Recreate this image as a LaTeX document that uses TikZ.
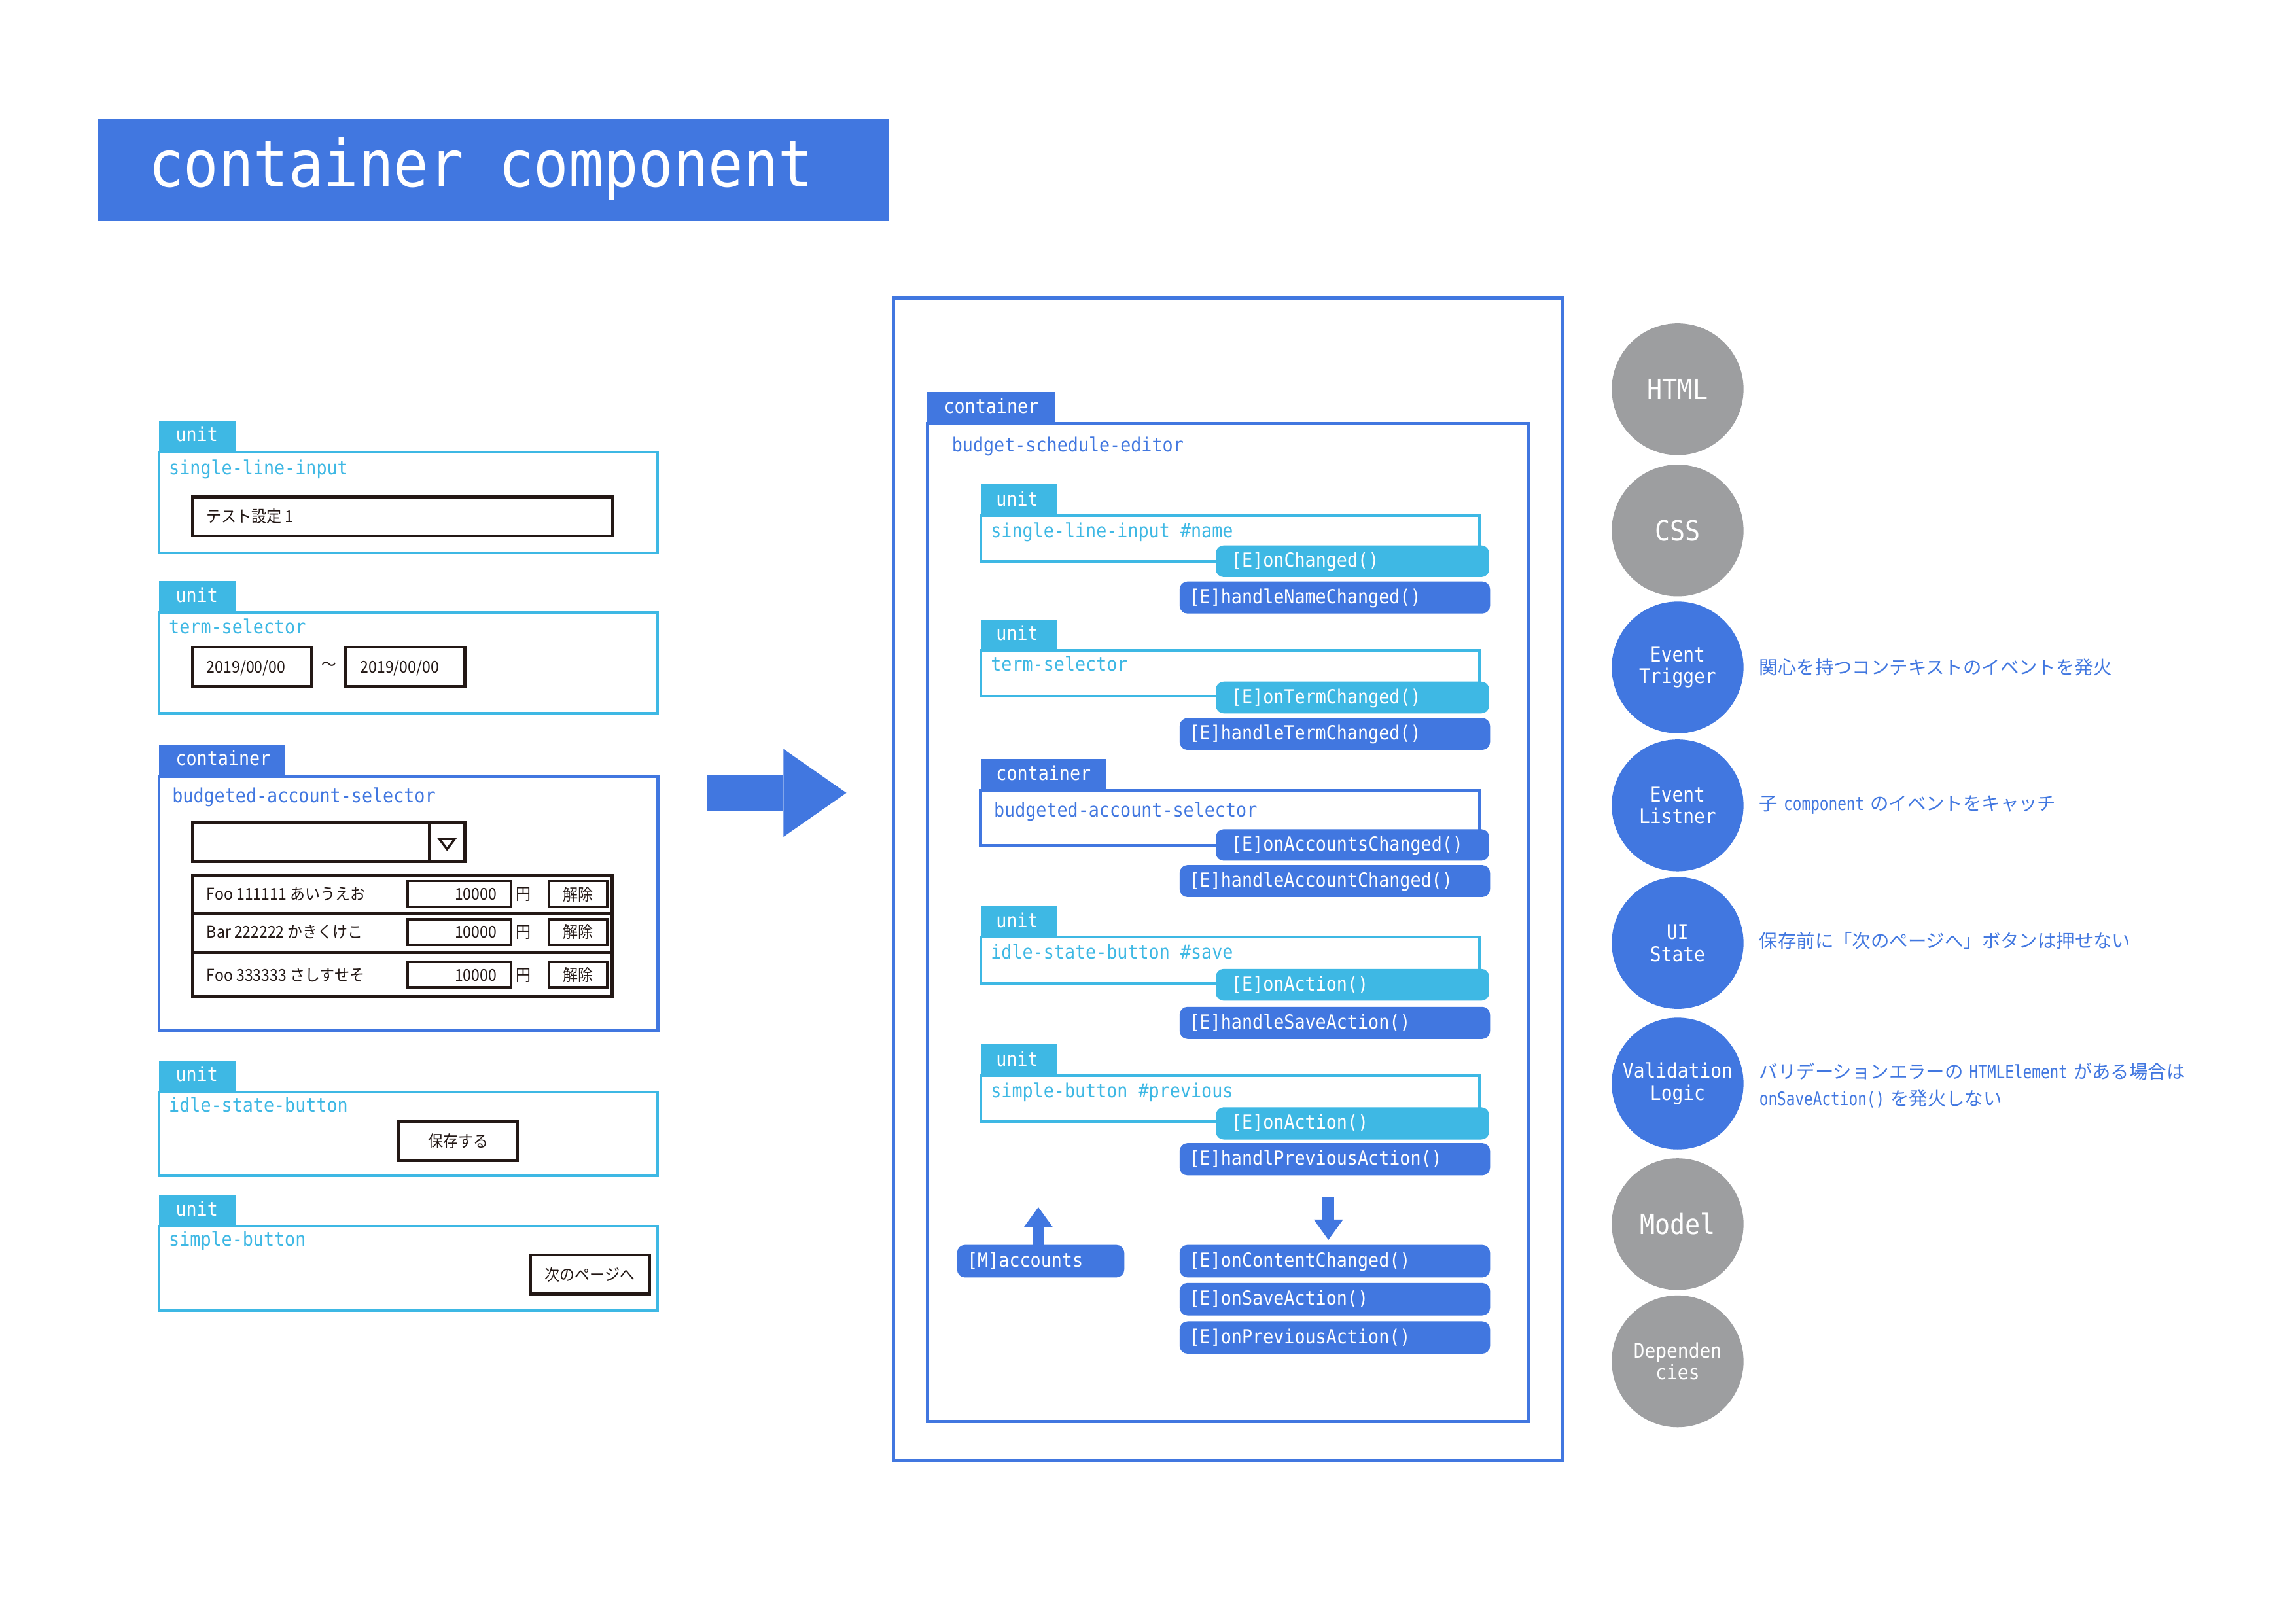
\documentclass[tikz,border=0pt]{standalone}
\usepackage{fontspec}
\usetikzlibrary{arrows.meta,calc}
\newfontfamily\monof[FakeStretch=0.9]{DejaVu Sans Mono}
\newfontfamily\monon[FakeStretch=0.8]{DejaVu Sans Mono}
\newfontfamily\jpf{Noto Sans CJK JP}
\newfontfamily\jpc[FakeStretch=0.92]{Noto Sans CJK JP}
\definecolor{dblue}{HTML}{4177E0}
\definecolor{lblue}{HTML}{3EB8E4}
\definecolor{cgray}{HTML}{9D9EA0}
\definecolor{ink}{HTML}{231815}
\newcommand\dmono{\monon\fontsize{28.4}{40.3}\selectfont}
\newcommand\dgap{\hspace{9pt}}
\newcommand\rect[6]{%
 \pgfmathsetlengthmacro\myrw{(#5-#3)*2.2379}%
 \pgfmathsetlengthmacro\myrh{(#6-#4)*2.2379}%
 \node[#2,anchor=north west,minimum width=\myrw,minimum height=\myrh] (#1) at (#3,#4) {};}
\newcommand\pill[8]{%
 \pgfmathsetlengthmacro\myrw{(#5-#3)*2.2379}%
 \pgfmathsetlengthmacro\myrh{(#6-#4)*2.2379}%
 \pgfmathsetlengthmacro\mypd{#7*2.2379}%
 \pgfmathsetlengthmacro\mytw{(#5-#3-2*#7)*2.2379}%
 \node[pillst,fill=#2,anchor=north west,minimum width=\myrw,minimum height=\myrh,inner xsep=\mypd,text width=\mytw] (#1) at (#3,#4) {#8};}
\begin{document}
\begin{tikzpicture}[x=2.2379pt,y=-2.2379pt,
 mono/.style={font=\monof\fontsize{29.7}{34}\selectfont},
 tabtxt/.style={mono,text=white,inner sep=0pt,anchor=base west},
 ulbl/.style={mono,text=lblue,inner sep=0pt,anchor=base west},
 clbl/.style={mono,text=dblue,inner sep=0pt,anchor=base west},
 ubox/.style={draw=lblue,line width=4pt,inner sep=0pt,outer sep=0pt},
 cbox/.style={draw=dblue,line width=4.5pt,inner sep=0pt,outer sep=0pt},
 kbox/.style={draw=ink,line width=4.5pt,inner sep=0pt,outer sep=0pt,fill=white},
 kthin/.style={draw=ink,line width=3.5pt,inner sep=0pt,outer sep=0pt,fill=white},
 utab/.style={fill=lblue,inner sep=0pt,outer sep=0pt},
 ctab/.style={fill=dblue,inner sep=0pt,outer sep=0pt},
 titlebox/.style={fill=dblue,inner sep=0pt,outer sep=0pt},
 mock/.style={text=ink,font=\jpc\fontsize{25}{30}\selectfont,inner sep=0pt},
 pillst/.style={rounded corners=12pt,inner ysep=0pt,outer sep=0pt,text=white,mono,align=left,text height=21pt,text depth=3pt},
 circ/.style={circle,minimum size=201.4pt,inner sep=0pt,text=white,align=center},
 cbig/.style={circ,font=\monof\fontsize{42.6}{46}\selectfont},
 csmall/.style={circ,font=\monof\fontsize{31}{33.5}\selectfont},
 desc/.style={text=dblue,font=\jpf\fontsize{28.4}{40.3}\selectfont,inner sep=0pt,anchor=west,align=left},
 blockarrow/.style={draw=dblue,line width=17.9pt,-{Triangle[length=30.9pt 0 0,width=44.8pt 0 0,line width=0pt 0]}},
 bigarrow/.style={draw=dblue,line width=53.7pt,-{Triangle[length=96.2pt 0 0,width=134.3pt 0 0,line width=0pt 0]}}
]
\fill[white] (0,0) rectangle (1568,1109);
\useasboundingbox (0,0) rectangle (1568,1109);

% ---------- title ----------
\rect{title}{titlebox}{67.2}{81.2}{606.7}{150.9}
\node[font=\monof\fontsize{98.7}{110}\selectfont,text=white,inner sep=0pt,anchor=base west] (titletxt) at (101.5,127.6) {container component};

% ---------- left column ----------
% unit 1
\rect{lt1}{utab}{108.5}{287.4}{160.9}{308.8}
\rect{lu1}{ubox}{108.5}{308.8}{449.3}{377.6}
\node[tabtxt] (lt1txt) at (119.9,301.6) {unit};
\node[ulbl] (lu1lbl) at (115.3,324) {single-line-input};
\rect{lin1}{kbox}{131.3}{339.3}{418.5}{366}
\node[mock,anchor=base west] (lin1txt) at (141.1,357) {テスト設定\,1};
% unit 2
\rect{lt2}{utab}{108.5}{396.9}{160.9}{418.3}
\rect{lu2}{ubox}{108.5}{418.3}{449.3}{487}
\node[tabtxt] (lt2txt) at (119.9,411.3) {unit};
\node[ulbl] (lu2lbl) at (115.3,432.6) {term-selector};
\rect{ld1}{kbox}{131.3}{442}{212.7}{468.7}
\rect{ld2}{kbox}{236.2}{442}{317.5}{468.7}
\node[mock,anchor=base west] (ld1txt) at (141.1,459.5) {2019/00/00};
\node[mock,anchor=base west] (ld2txt) at (246,459.5) {2019/00/00};
\node[mock] (ltilde) at (224.8,455) {〜};
% container
\rect{lt3}{ctab}{108.5}{508.6}{194.6}{530.3}
\rect{lc1}{cbox}{108.5}{530.3}{449.3}{703.8}
\node[tabtxt] (lt3txt) at (119.9,522.8) {container};
\node[clbl] (lc1lbl) at (117.6,548.1) {budgeted-account-selector};
\rect{ldd}{kbox}{131.3}{562}{317.5}{588.6}
\rect{lddbtn}{kbox}{293.1}{562}{317.5}{588.6}
\draw[ink,line width=3.5pt,fill=white,line join=miter] (300,572.9) -- (310.6,572.9) -- (305.3,579.9) -- cycle;
\rect{lr1}{kbox}{131.3}{598}{418.1}{624}
\rect{lr2}{kbox}{131.3}{624}{418.1}{650.6}
\rect{lr3}{kbox}{131.3}{650.6}{418.1}{680.4}
\rect{la1}{kthin}{278.3}{601.7}{349}{619.6}
\rect{la2}{kthin}{278.3}{627.8}{349}{645.2}
\rect{la3}{kthin}{278.3}{656.8}{349}{674.4}
\rect{lx1}{kthin}{375.2}{601.7}{414.7}{619.6}
\rect{lx2}{kthin}{375.2}{627.8}{414.7}{645.2}
\rect{lx3}{kthin}{375.2}{656.8}{414.7}{674.4}
\node[mock,anchor=base west] (lr1txt) at (141.1,614.8) {Foo 111111 あいうえお};
\node[mock,anchor=base west] (lr2txt) at (141.1,640.6) {Bar 222222 かきくけこ};
\node[mock,anchor=base west] (lr3txt) at (141.1,670) {Foo 333333 さしすせそ};
\node[mock,anchor=base east] (la1txt) at (339.2,614.8) {10000};
\node[mock,anchor=base east] (la2txt) at (339.2,640.6) {10000};
\node[mock,anchor=base east] (la3txt) at (339.2,670) {10000};
\node[mock,anchor=base] (ly1) at (357.6,614.8) {円};
\node[mock,anchor=base] (ly2) at (357.6,640.6) {円};
\node[mock,anchor=base] (ly3) at (357.6,670) {円};
\node[mock] (lx1txt) at (lx1.center) {解除};
\node[mock] (lx2txt) at (lx2.center) {解除};
\node[mock] (lx3txt) at (lx3.center) {解除};
% unit 4
\rect{lt4}{utab}{108.5}{724.3}{160.9}{745.8}
\rect{lu4}{ubox}{108.5}{745.8}{449.3}{802.8}
\node[tabtxt] (lt4txt) at (119.9,738.6) {unit};
\node[ulbl] (lu4lbl) at (115.3,759.6) {idle-state-button};
\rect{lb1}{kbox}{272.1}{765.9}{353.5}{792.7}
\node[mock] (lb1txt) at (lb1.center) {保存する};
% unit 5
\rect{lt5}{utab}{108.5}{816.2}{160.9}{837.5}
\rect{lu5}{ubox}{108.5}{837.5}{449.3}{894.9}
\node[tabtxt] (lt5txt) at (119.9,830.5) {unit};
\node[ulbl] (lu5lbl) at (115.3,851.2) {simple-button};
\rect{lb2}{kbox}{362.2}{857.1}{443.6}{883.7}
\node[mock] (lb2txt) at (lb2.center) {次のページへ};

% ---------- big arrow ----------
\coordinate (bigS) at (483,541.5);
\coordinate (bigT) at (578,541.5);
\draw[bigarrow] (bigS) -- (bigT);

% ---------- middle ----------
\rect{mouter}{cbox}{610.1}{203.6}{1066.9}{997.5}
\rect{mt0}{ctab}{633.4}{267.8}{720.1}{289}
\rect{minner}{cbox}{633.4}{289}{1043.7}{970.7}
\node[tabtxt] (mt0txt) at (644.5,282.4) {container};
\node[clbl] (mlbl0) at (650,308.7) {budget-schedule-editor};
% A
\rect{mtA}{utab}{669.6}{330.8}{721.9}{352.2}
\rect{muA}{ubox}{669.6}{352.2}{1010.4}{383.5}
\node[tabtxt] (mtAtxt) at (680.2,345.6) {unit};
\node[ulbl] (mlblA) at (676.6,367.2) {single-line-input \#name};
\pill{pA1}{lblue}{830.3}{372.5}{1017}{394.1}{10.7}{[E]onChanged()}
\pill{pA2}{dblue}{805.6}{397.1}{1017.6}{419}{6.6}{[E]handleNameChanged()}
% B
\rect{mtB}{utab}{669.6}{423}{721.9}{444}
\rect{muB}{ubox}{669.6}{444}{1010.4}{475.3}
\node[tabtxt] (mtBtxt) at (680.2,437.3) {unit};
\node[ulbl] (mlblB) at (676.6,458.3) {term-selector};
\pill{pB1}{lblue}{830.3}{465.5}{1017}{487.2}{10.7}{[E]onTermChanged()}
\pill{pB2}{dblue}{805.6}{490.4}{1017.6}{512.1}{6.6}{[E]handleTermChanged()}
% C
\rect{mtC}{ctab}{669.6}{518.4}{755.7}{539.8}
\rect{muC}{cbox}{669.6}{539.8}{1010.4}{577.3}
\node[tabtxt] (mtCtxt) at (680.2,532.8) {container};
\node[clbl] (mlblC) at (678.7,558) {budgeted-account-selector};
\pill{pC1}{dblue}{830.3}{566.3}{1017}{587.8}{10.7}{[E]onAccountsChanged()}
\pill{pC2}{dblue}{805.6}{590.8}{1017.6}{612.6}{6.6}{[E]handleAccountChanged()}
% D
\rect{mtD}{utab}{669.6}{618.8}{721.9}{640.1}
\rect{muD}{ubox}{669.6}{640.1}{1010.4}{671.6}
\node[tabtxt] (mtDtxt) at (680.2,633.6) {unit};
\node[ulbl] (mlblD) at (676.6,655) {idle-state-button \#save};
\pill{pD1}{lblue}{830.3}{661.7}{1017}{683.4}{10.7}{[E]onAction()}
\pill{pD2}{dblue}{805.6}{687.6}{1017.6}{709.5}{6.6}{[E]handleSaveAction()}
% E
\rect{mtE}{utab}{669.6}{713.3}{721.9}{734.5}
\rect{muE}{ubox}{669.6}{734.5}{1010.4}{765.8}
\node[tabtxt] (mtEtxt) at (680.2,728) {unit};
\node[ulbl] (mlblE) at (676.6,749.4) {simple-button \#previous};
\pill{pE1}{lblue}{830.3}{756.2}{1017}{778.2}{10.7}{[E]onAction()}
\pill{pE2}{dblue}{805.6}{780.7}{1017.6}{802.7}{6.6}{[E]handlPreviousAction()}
% bottom
\pill{pM}{dblue}{653.6}{850.2}{767.8}{872.4}{6.9}{[M]accounts}
\pill{pF1}{dblue}{805.6}{850.2}{1017.6}{872.4}{6.6}{[E]onContentChanged()}
\pill{pF2}{dblue}{805.6}{876.2}{1017.6}{898.4}{6.6}{[E]onSaveAction()}
\pill{pF3}{dblue}{805.6}{902.4}{1017.6}{924.5}{6.6}{[E]onPreviousAction()}
\coordinate (upT) at (709.1,824.4);
\draw[blockarrow] (pM.north -| upT) -- (upT);
\coordinate (downS) at (907.2,817.7);
\draw[blockarrow,shorten >=7.8pt] (downS) -- (pF1.north -| downS);

% ---------- right column ----------
\node[cbig,fill=cgray] (chtml) at (1145.7,265.8) {HTML};
\node[cbig,fill=cgray] (ccss) at (1145.7,362.3) {CSS};
\node[csmall,fill=dblue] (ctrig) at (1145.7,455.8) {Event\\Trigger};
\node[csmall,fill=dblue] (clist) at (1145.7,550) {Event\\Listner};
\node[csmall,fill=dblue] (cui) at (1145.7,644) {UI\\State};
\node[csmall,fill=dblue] (cval) at (1145.7,740) {Validation\\Logic};
\node[cbig,fill=cgray] (cmodel) at (1145.7,836) {Model};
\node[csmall,fill=cgray] (cdep) at (1145.7,929.7) {Dependen\\cies};
\node[desc] (dtrig) at (1201.4,455.8) {関心を持つコンテキストのイベントを発火};
\node[desc] (dlist) at (1201.4,549.6) {子\dgap{\dmono component}\dgap のイベントをキャッチ};
\node[desc] (dui) at (1201.4,642.5) {保存前に「次のページへ」ボタンは押せない};
\node[desc] (dval) at (1201.4,741.2) {バリデーションエラーの\dgap{\dmono HTMLElement}\dgap がある場合は\\{\dmono onSaveAction()}\dgap を発火しない};
\end{tikzpicture}
\end{document}
